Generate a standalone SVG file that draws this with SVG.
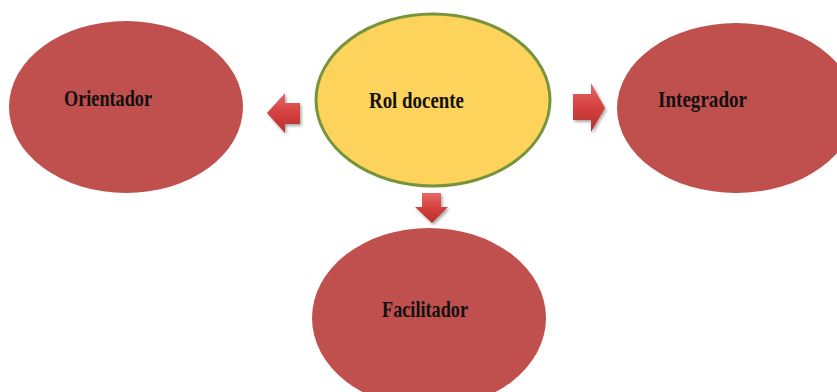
<svg xmlns="http://www.w3.org/2000/svg" width="837" height="392" viewBox="0 0 837 392">
<style>
.red{fill:#c0504d}
.lbl{font-family:"Liberation Serif","Times New Roman",serif;font-weight:bold;font-size:24px;fill:#111}
.arr{fill:url(#ag);filter:url(#sh)}
</style>
<defs>
<linearGradient id="ag" x1="0" y1="0" x2="0" y2="1">
<stop offset="0" stop-color="#e46a67"/>
<stop offset="0.5" stop-color="#d4403e"/>
<stop offset="1" stop-color="#b5302e"/>
</linearGradient>
<filter id="sh" x="-30%" y="-30%" width="160%" height="160%">
<feDropShadow dx="1.5" dy="2" stdDeviation="1.5" flood-color="#000" flood-opacity="0.35"/>
</filter>
</defs>
<rect width="837" height="392" fill="#fff"/>
<g id="orientador">
<ellipse class="red" cx="126" cy="107" rx="117" ry="86"/>
<text class="lbl" x="64" y="106" textLength="88" lengthAdjust="spacingAndGlyphs">Orientador</text>
</g>
<g id="rol-docente">
<ellipse cx="433" cy="100" rx="117" ry="86" fill="#fdd35b" stroke="#77933c" stroke-width="3"/>
<text class="lbl" x="369" y="108" textLength="95" lengthAdjust="spacingAndGlyphs">Rol docente</text>
</g>
<g id="integrador">
<ellipse class="red" cx="736" cy="108" rx="119" ry="85"/>
<text class="lbl" x="658" y="107" textLength="89" lengthAdjust="spacingAndGlyphs">Integrador</text>
</g>
<g id="facilitador">
<ellipse class="red" cx="429" cy="318" rx="117" ry="90"/>
<text class="lbl" x="382" y="317" textLength="86" lengthAdjust="spacingAndGlyphs">Facilitador</text>
</g>
<g id="connectors">
<polygon class="arr" points="267,113 285,93 285,103 300,103 300,124 285,124 285,133"/>
<polygon class="arr" points="605,108 591,83 591,94 573,94 573,120 591,120 591,132"/>
<polygon class="arr" points="432,223 415,207 422,207 422,193 441,193 441,207 448,207"/>
</g>
</svg>
